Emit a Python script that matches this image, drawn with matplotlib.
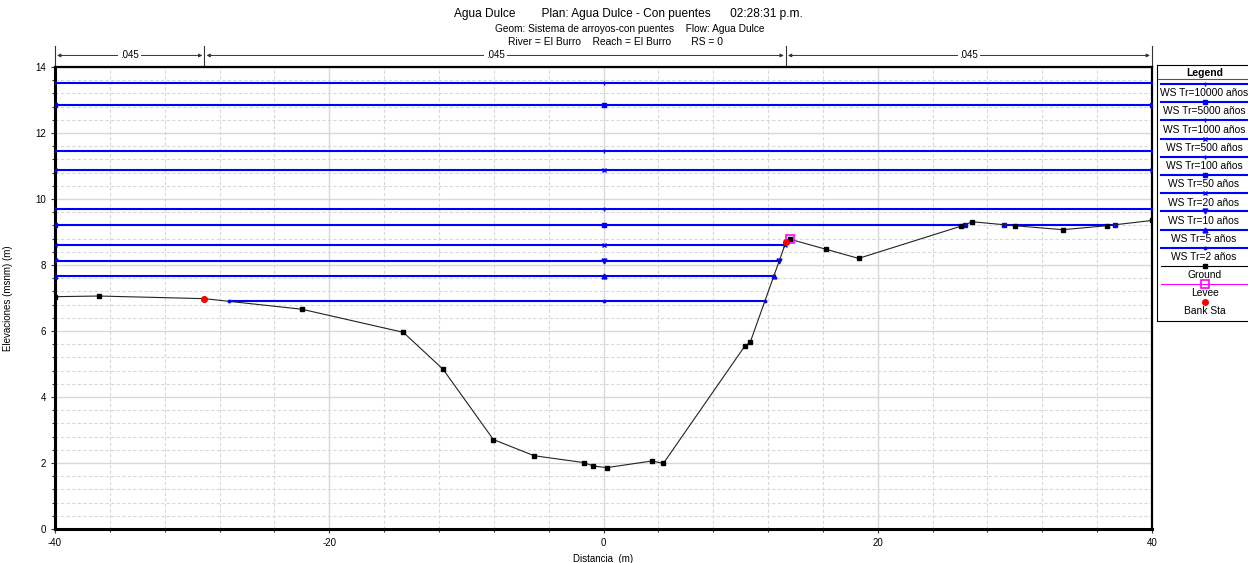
import matplotlib.pyplot as plt
import numpy as np
from matplotlib.ticker import MultipleLocator

plt.rcParams['font.family'] = ['Liberation Sans', 'DejaVu Sans']
plt.rcParams['axes.unicode_minus'] = False

# seccion transversal (estacion, elevacion)
sta = [-40.0, -36.8, -29.1, -22.0, -14.6, -11.7, -8.03, -5.06, -1.39, -0.78, 0.24,
       3.52, 4.37, 10.3, 10.7, 13.3, 13.6, 16.2, 18.6, 26.1, 26.9, 30.0, 33.5, 36.7, 40.0]
elev = [7.04, 7.06, 6.98, 6.66, 5.96, 4.84, 2.71, 2.22, 2.01, 1.91, 1.86,
        2.06, 1.99, 5.54, 5.66, 8.69, 8.78, 8.48, 8.20, 9.18, 9.31, 9.19, 9.07, 9.19, 9.35]
bank_sta = [-29.1, 13.3]
levee_sta = [13.6]
levee_elev = [8.78]

# niveles de agua
ws_names = ['WS Tr=10000 años', 'WS Tr=5000 años', 'WS Tr=1000 años', 'WS Tr=500 años',
            'WS Tr=100 años', 'WS Tr=50 años', 'WS Tr=20 años', 'WS Tr=10 años',
            'WS Tr=5 años', 'WS Tr=2 años']
ws_elev = [13.52, 12.84, 11.45, 10.89, 9.70, 9.22, 8.60, 8.13, 7.67, 6.90]
ws_markers = ['|', 's', '|', 'x', '+', 's', 'x', 'v', '^', '.']

# rugosidad de manning
n_breaks = [-40.0, -29.1, 13.3, 40.0]
n_vals = ['.045', '.045', '.045']

blue = '#0000ff'


def wet_segments(x, z, ws):
    # tramos donde el terreno queda por debajo del nivel de agua
    segs = []
    start = x[0] if z[0] < ws else None
    for i in range(len(x) - 1):
        z0, z1 = z[i], z[i + 1]
        if (z0 < ws) != (z1 < ws):
            xc = x[i] + (ws - z0) / (z1 - z0) * (x[i + 1] - x[i])
            if z0 >= ws:
                start = xc
            else:
                segs.append((start, xc))
                start = None
    if start is not None:
        segs.append((start, x[-1]))
    # el bordo impide que el agua pase si no lo rebasa
    if ws <= levee_elev[0]:
        segs = [s for s in segs if s[0] < levee_sta[0]]
    return segs


fig = plt.figure(figsize=(12.48, 5.63), dpi=100)
ax = fig.add_axes([55 / 1248, 34 / 563, 1097 / 1248, 462 / 563])

for ws, mk in zip(ws_elev, ws_markers):
    for a, b in wet_segments(sta, elev, ws):
        ax.plot([a, b], [ws, ws], color=blue, lw=1.5, zorder=3)
        pts = [a, b] + ([0.0] if a < 0 < b else [])
        ax.plot(pts, [ws] * len(pts), ls='none', marker=mk, ms=3.5, color=blue,
                mew=1, zorder=4)

ax.plot(sta, elev, color='#222222', lw=0.8, marker='s', ms=3.5, mfc='black',
        mec='black', zorder=5)
ax.plot(levee_sta, levee_elev, ls='none', marker='s', ms=6, mfc='none',
        mec='#ff00ff', mew=1.2, zorder=6)
ax.plot(bank_sta, np.interp(bank_sta, sta, elev), ls='none', marker='o', ms=4,
        color='red', zorder=6)

ax.set_xlim(-40, 40)
ax.set_ylim(0, 14)
ax.xaxis.set_major_locator(MultipleLocator(20))
ax.xaxis.set_minor_locator(MultipleLocator(4))
ax.yaxis.set_major_locator(MultipleLocator(2))
ax.yaxis.set_minor_locator(MultipleLocator(0.4))
ax.grid(which='major', color='#d8d8d8', lw=1.0)
ax.grid(which='minor', color='#d8d8d8', lw=0.8, ls=(0, (3, 2)))
ax.set_axisbelow(True)
ax.tick_params(which='both', labelsize=7, length=3, width=0.8, color='#333333')
ax.tick_params(which='minor', length=2)
for s in ['left', 'bottom']:
    ax.spines[s].set_linewidth(2.2)
for s in ['top', 'right']:
    ax.spines[s].set_linewidth(1.6)

ax.set_xlabel('Distancia  (m)', fontsize=7, labelpad=4)
ax.set_ylabel('Elevaciones (msnm) (m)', fontsize=7, labelpad=16)

# barra de rugosidad sobre el grafico
for xb in n_breaks:
    ax.plot([xb, xb], [14.0, 14.65], color='#333333', lw=0.8, clip_on=False)
for i, nv in enumerate(n_vals):
    a, b = n_breaks[i], n_breaks[i + 1]
    ax.annotate('', xy=(a + 0.15, 14.35), xytext=(b - 0.15, 14.35),
                arrowprops=dict(arrowstyle='<|-|>', color='#333333', lw=0.7,
                                mutation_scale=5, shrinkA=0, shrinkB=0),
                annotation_clip=False)
    ax.text((a + b) / 2, 14.35, nv, fontsize=7, ha='center', va='center',
            bbox=dict(fc='white', ec='none', pad=1.5), clip_on=False)

# titulos
fig.text(628 / 1248, 1 - 14 / 563,
         'Agua Dulce        Plan: Agua Dulce - Con puentes      02:28:31 p.m.',
         fontsize=8.6, ha='center', va='center')
fig.text(630 / 1248, 1 - 29 / 563,
         'Geom: Sistema de arroyos-con puentes    Flow: Agua Dulce',
         fontsize=7.3, ha='center', va='center')
fig.text(615 / 1248, 1 - 42 / 563,
         'River = El Burro    Reach = El Burro       RS = 0',
         fontsize=7.4, ha='center', va='center')

# leyenda dibujada a mano
lg = fig.add_axes([1157 / 1248, (563 - 321) / 563, 95 / 1248, 256 / 563])
lg.set_xlim(0, 95)
lg.set_ylim(321, 65)
lg.set_xticks([])
lg.set_yticks([])
for s in lg.spines.values():
    s.set_linewidth(0.8)
lg.text(48, 72.5, 'Legend', fontsize=7.5, weight='bold', ha='center', va='center')
lg.plot([0, 95], [79, 79], color='#555555', lw=0.8)
row = 18.2
for i, (name, mk) in enumerate(zip(ws_names, ws_markers)):
    y = 84 + row * i
    lg.plot([4, 95], [y, y], color=blue, lw=1.5)
    lg.plot([48], [y], marker=mk, ms=3.5, color=blue, mew=1)
    lg.text(47, y + 9.3, name, fontsize=7.4, ha='center', va='center')
y = 84 + row * 10
lg.plot([4, 95], [y, y], color='black', lw=0.8)
lg.plot([48], [y], marker='s', ms=3.5, color='black')
lg.text(48, y + 9, 'Ground', fontsize=7.4, ha='center', va='center')
y = 84 + row * 11
lg.plot([4, 95], [y, y], color='#ff00ff', lw=0.8)
lg.plot([48], [y], marker='s', ms=6, mfc='none', mec='#ff00ff', mew=1.2)
lg.text(48, y + 9, 'Levee', fontsize=7.4, ha='center', va='center')
y = 84 + row * 12
lg.plot([48], [y], marker='o', ms=4, color='red')
lg.text(48, y + 9, 'Bank Sta', fontsize=7.4, ha='center', va='center')

fig.savefig('out.png', dpi=100)
plt.close(fig)
